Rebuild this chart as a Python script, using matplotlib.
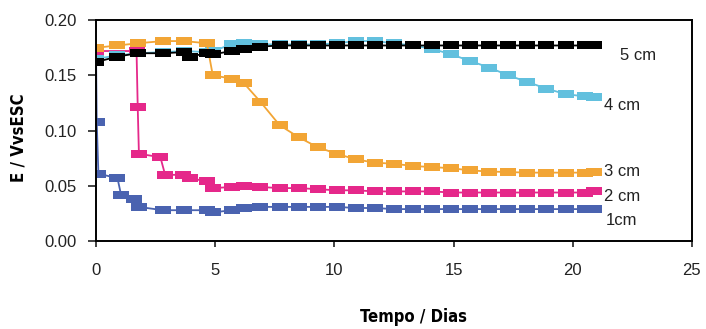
import matplotlib
matplotlib.use("Agg")
import matplotlib.pyplot as plt

# Données (tempo en jours, E en V vs ESC)
t_tardif = [7.7, 8.5, 9.3, 10.1, 10.9, 11.7, 12.5, 13.3, 14.1, 14.9,
            15.7, 16.5, 17.3, 18.1, 18.9, 19.7, 20.5, 20.9]

t_5cm = [0, 0.9, 1.75, 2.8, 3.7, 3.95, 4.65, 4.9, 5.7, 6.2, 6.9] + t_tardif
e_5cm = [0.162, 0.167, 0.170, 0.170, 0.171, 0.167, 0.170, 0.169, 0.172, 0.174, 0.176,
         0.177, 0.177, 0.177, 0.177, 0.177, 0.177, 0.177, 0.177, 0.177, 0.177,
         0.177, 0.177, 0.177, 0.177, 0.177, 0.177, 0.177, 0.177]

t_4cm = [0, 0.9, 1.75, 2.8, 3.7, 4.65, 4.9, 5.7, 6.2, 6.9] + t_tardif
e_4cm = [0.165, 0.168, 0.170, 0.171, 0.172, 0.171, 0.172, 0.178, 0.179, 0.178,
         0.178, 0.178, 0.178, 0.179, 0.181, 0.181, 0.179, 0.177, 0.174, 0.169,
         0.163, 0.157, 0.150, 0.144, 0.138, 0.133, 0.131, 0.130]

t_3cm = [0, 0.9, 1.75, 2.8, 3.7, 4.65, 4.9, 5.7, 6.2, 6.9] + t_tardif
e_3cm = [0.175, 0.177, 0.179, 0.181, 0.181, 0.179, 0.150, 0.147, 0.143, 0.126,
         0.105, 0.094, 0.085, 0.079, 0.074, 0.071, 0.070, 0.068, 0.067, 0.066,
         0.064, 0.063, 0.0625, 0.062, 0.062, 0.062, 0.062, 0.063]

t_2cm = [0, 1.7, 1.75, 1.8, 2.7, 2.9, 3.65, 3.95, 4.65, 4.9, 5.7, 6.2, 6.9] + t_tardif
e_2cm = [0.172, 0.172, 0.121, 0.079, 0.076, 0.060, 0.060, 0.057, 0.054, 0.048, 0.049,
         0.050, 0.049,
         0.048, 0.048, 0.047, 0.046, 0.046, 0.045, 0.045, 0.045, 0.045, 0.044,
         0.044, 0.044, 0.044, 0.044, 0.044, 0.044, 0.044, 0.045]

t_1cm = [0, 0.03, 0.1, 0.9, 1.05, 1.6, 1.8, 2.8, 3.7, 4.65, 4.9, 5.7, 6.2, 6.9] + t_tardif
e_1cm = [0.170, 0.108, 0.061, 0.057, 0.042, 0.038, 0.031, 0.028, 0.028, 0.028,
         0.026, 0.028, 0.030, 0.031,
         0.031, 0.031, 0.031, 0.031, 0.030, 0.030, 0.029, 0.029, 0.029, 0.029,
         0.029, 0.029, 0.029, 0.029, 0.029, 0.029, 0.029, 0.029]

etiquettes = ["5 cm", "4 cm", "3 cm", "2 cm", "1cm"]
pos_etiquettes = [(22.0, 0.168), (21.3, 0.123), (21.3, 0.063), (21.3, 0.040), (21.4, 0.019)]

plt.rcParams['font.family'] = ['Liberation Sans', 'DejaVu Sans']

fig = plt.figure(figsize=(7.06, 3.29), dpi=100)
ax = fig.add_axes([0.136, 0.267, 0.844, 0.672])

# marqueur rectangulaire (plus large que haut)
rect = [(-1, -0.55), (1, -0.55), (1, 0.55), (-1, 0.55), (-1, -0.55)]
style = dict(marker=rect, markersize=11, markeredgewidth=0, linewidth=1.3)
ax.plot(t_1cm, e_1cm, color='#4a63b0', **style)
ax.plot(t_2cm, e_2cm, color='#e5288a', **style)
ax.plot(t_4cm, e_4cm, color='#62c0de', **style)
ax.plot(t_3cm, e_3cm, color='#f2a535', **style)
ax.plot(t_5cm, e_5cm, color='#000000', **style)

for txt, (x, y) in zip(etiquettes, pos_etiquettes):
    ax.text(x, y, txt, fontsize=12, color='#222222', va='center', ha='left')

ax.set_xlim(0, 25)
ax.set_ylim(0, 0.2)
ax.set_xticks([0, 5, 10, 15, 20, 25])
ax.set_yticks([0, 0.05, 0.10, 0.15, 0.20])
ax.set_yticklabels(["0.00", "0.05", "0.10", "0.15", "0.20"])
ax.tick_params(axis='x', direction='out', length=4, width=1.2, labelsize=12, pad=12, colors='#222222')
ax.tick_params(axis='y', direction='out', length=6, width=1.2, labelsize=12, pad=8, colors='#222222')
for s in ax.spines.values():
    s.set_linewidth(1.4)

fig.text(0.585, 0.035, "Tempo / Dias", fontsize=12, fontweight='bold', fontstretch='condensed',
         family=['DejaVu Sans'], ha='center', va='center')
fig.text(0.026, 0.58, "E / VvsESC", fontsize=12, fontweight='bold', rotation=90,
         fontstretch='condensed', family=['DejaVu Sans'], ha='center', va='center')

fig.savefig("out.png", dpi=100)
